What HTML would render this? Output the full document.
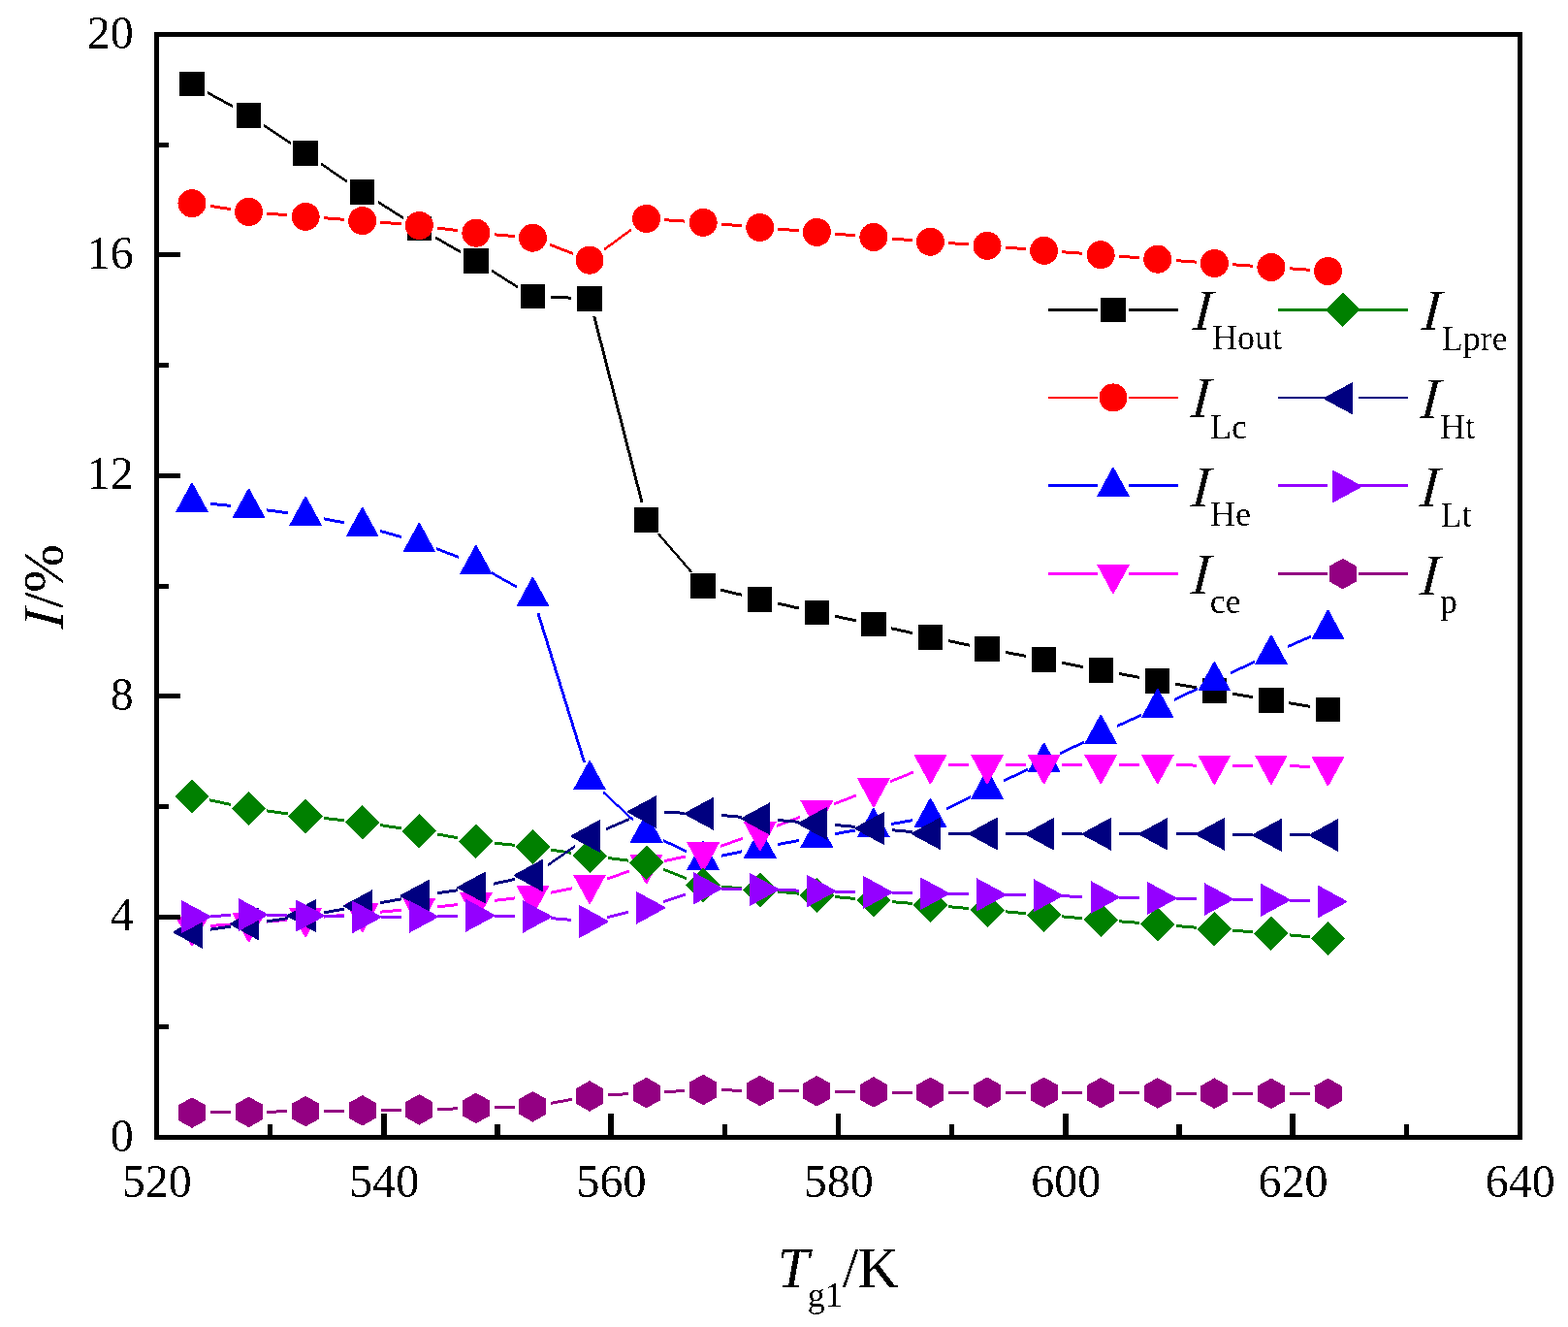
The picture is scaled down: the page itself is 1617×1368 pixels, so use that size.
<!DOCTYPE html>
<html><head><meta charset="utf-8"><title>I vs Tg1</title>
<style>html,body{margin:0;padding:0;background:#fff;}svg{display:block;}
text{font-family:"Liberation Serif","Times New Roman",serif;fill:#000;}</style></head><body>
<svg shape-rendering="crispEdges" width="1617" height="1368" viewBox="0 0 1617 1368">
<defs><filter id="bin" filterUnits="userSpaceOnUse" x="0" y="0" width="1617" height="1368"><feComponentTransfer><feFuncA type="discrete" tableValues="0 1"/></feComponentTransfer></filter><filter id="binI" filterUnits="userSpaceOnUse" x="0" y="0" width="1617" height="1368"><feComponentTransfer><feFuncA type="discrete" tableValues="0 0 1"/></feComponentTransfer></filter></defs>
<rect x="0" y="0" width="1617" height="1368" fill="#fff"/>
<path d="M214.49 94.23L240.09 108.27L240.09 111.27L214.49 97.23ZM272.19 127.77L299.54 146.13L299.54 149.13L272.19 130.77ZM330.7 167.17L358.17 185.83L358.17 188.83L330.7 170.17ZM389.58 206.5L416.44 223.6L416.44 226.6L389.58 209.5ZM448.6 243.08L474.58 258.02L474.58 261.02L448.6 246.08ZM506.79 277.4L533.53 294.2L533.53 297.2L506.79 280.4ZM568.24 304.87L589.24 305.63L589.24 308.63L568.24 307.87ZM611.2 326.01L660.42 517.69L663.42 517.69L614.2 326.01ZM677.38 550.14L711.39 589.56L714.39 589.56L680.38 550.14ZM743.46 606.67L765.47 611.93L765.47 614.93L743.46 609.67ZM802.07 620.52L824.01 625.58L824.01 628.58L802.07 623.52ZM860.72 633.69L882.51 638.31L882.51 641.31L860.72 636.69ZM919.25 646.3L941.13 651.2L941.13 654.2L919.25 649.3ZM977.89 659.1L999.64 663.6L999.64 666.6L977.89 662.1ZM1036.53 670.87L1058.15 674.93L1058.15 677.93L1036.53 673.87ZM1095.1 681.87L1116.72 685.93L1116.72 688.93L1095.1 684.87ZM1153.68 692.87L1175.3 696.93L1175.3 699.93L1153.68 695.87ZM1212.3 703.63L1233.83 707.37L1233.83 710.37L1212.3 706.63ZM1270.9 713.67L1292.38 717.23L1292.38 720.23L1270.9 716.67ZM1329.48 723.34L1350.95 726.86L1350.95 729.86L1329.48 726.34Z" fill="#000000"/>
<rect x="185.3" y="74" width="25.4" height="25.4" fill="#000000"/><rect x="243.88" y="106.1" width="25.4" height="25.4" fill="#000000"/><rect x="302.45" y="145.4" width="25.4" height="25.4" fill="#000000"/><rect x="361.03" y="185.2" width="25.4" height="25.4" fill="#000000"/><rect x="419.6" y="222.5" width="25.4" height="25.4" fill="#000000"/><rect x="478.18" y="256.2" width="25.4" height="25.4" fill="#000000"/><rect x="536.75" y="293" width="25.4" height="25.4" fill="#000000"/><rect x="595.33" y="295.1" width="25.4" height="25.4" fill="#000000"/><rect x="653.9" y="523.2" width="25.4" height="25.4" fill="#000000"/><rect x="712.48" y="591.1" width="25.4" height="25.4" fill="#000000"/><rect x="771.05" y="605.1" width="25.4" height="25.4" fill="#000000"/><rect x="829.62" y="618.6" width="25.4" height="25.4" fill="#000000"/><rect x="888.2" y="631" width="25.4" height="25.4" fill="#000000"/><rect x="946.77" y="644.1" width="25.4" height="25.4" fill="#000000"/><rect x="1005.35" y="656.2" width="25.4" height="25.4" fill="#000000"/><rect x="1063.92" y="667.2" width="25.4" height="25.4" fill="#000000"/><rect x="1122.5" y="678.2" width="25.4" height="25.4" fill="#000000"/><rect x="1181.08" y="689.2" width="25.4" height="25.4" fill="#000000"/><rect x="1239.65" y="699.4" width="25.4" height="25.4" fill="#000000"/><rect x="1298.22" y="709.1" width="25.4" height="25.4" fill="#000000"/><rect x="1356.8" y="718.7" width="25.4" height="25.4" fill="#000000"/>
<path d="M216.59 210.89L237.98 214.11L237.98 217.11L216.59 213.89ZM275.31 218.5L296.42 220.3L296.42 223.3L275.31 221.5ZM333.9 223.24L354.97 224.76L354.97 227.76L333.9 226.24ZM392.46 227.67L413.57 229.43L413.57 232.43L392.46 230.67ZM450.94 233.45L472.24 236.25L472.24 239.25L450.94 236.45ZM509.61 240.3L530.72 242.1L530.72 245.1L509.61 243.3ZM566.95 250.57L590.53 259.83L590.53 262.83L566.95 253.57ZM623.2 255.61L651.42 234.99L651.42 237.99L623.2 258.61ZM685.36 225.18L706.42 226.62L706.42 229.62L685.36 228.18ZM743.9 229.53L765.02 231.37L765.02 234.37L743.9 232.53ZM802.48 234.57L823.59 236.33L823.59 239.33L802.48 237.57ZM861.05 239.53L882.17 241.37L882.17 244.37L861.05 242.53ZM919.64 244.5L940.74 246.2L940.74 249.2L919.64 247.5ZM978.23 249.04L999.3 250.56L999.3 253.56L978.23 252.04ZM1036.78 253.47L1057.89 255.23L1057.89 258.23L1036.78 256.47ZM1095.37 258.21L1116.45 259.79L1116.45 262.79L1095.37 261.21ZM1153.94 262.64L1175.03 264.26L1175.03 267.26L1153.94 265.64ZM1212.52 267.08L1233.6 268.62L1233.6 271.62L1212.52 270.08ZM1271.11 271.28L1292.17 272.72L1292.17 275.72L1271.11 274.28ZM1329.68 275.31L1350.75 276.79L1350.75 279.79L1329.68 278.31Z" fill="#ff0000"/>
<circle cx="198" cy="209.6" r="14.5" fill="#ff0000"/><circle cx="256.57" cy="218.4" r="14.5" fill="#ff0000"/><circle cx="315.15" cy="223.4" r="14.5" fill="#ff0000"/><circle cx="373.73" cy="227.6" r="14.5" fill="#ff0000"/><circle cx="432.3" cy="232.5" r="14.5" fill="#ff0000"/><circle cx="490.88" cy="240.2" r="14.5" fill="#ff0000"/><circle cx="549.45" cy="245.2" r="14.5" fill="#ff0000"/><circle cx="608.03" cy="268.2" r="14.5" fill="#ff0000"/><circle cx="666.6" cy="225.4" r="14.5" fill="#ff0000"/><circle cx="725.18" cy="229.4" r="14.5" fill="#ff0000"/><circle cx="783.75" cy="234.5" r="14.5" fill="#ff0000"/><circle cx="842.33" cy="239.4" r="14.5" fill="#ff0000"/><circle cx="900.9" cy="244.5" r="14.5" fill="#ff0000"/><circle cx="959.48" cy="249.2" r="14.5" fill="#ff0000"/><circle cx="1018.05" cy="253.4" r="14.5" fill="#ff0000"/><circle cx="1076.62" cy="258.3" r="14.5" fill="#ff0000"/><circle cx="1135.2" cy="262.7" r="14.5" fill="#ff0000"/><circle cx="1193.78" cy="267.2" r="14.5" fill="#ff0000"/><circle cx="1252.35" cy="271.5" r="14.5" fill="#ff0000"/><circle cx="1310.92" cy="275.5" r="14.5" fill="#ff0000"/><circle cx="1369.5" cy="279.6" r="14.5" fill="#ff0000"/>
<path d="M216.71 517.78L237.87 519.92L237.87 522.92L216.71 520.78ZM275.2 524.34L296.52 527.26L296.52 530.26L275.2 527.34ZM333.62 533.3L355.25 537.4L355.25 540.4L333.62 536.3ZM391.84 545.91L414.18 552.09L414.18 555.09L391.84 548.91ZM449.81 563.95L473.37 573.15L473.37 576.15L449.81 566.95ZM507.27 589.21L533.06 603.69L533.06 606.69L507.27 592.21ZM553.51 632.36L600.97 785.64L603.97 785.64L556.51 632.36ZM621.8 814.89L652.82 843.71L652.82 846.71L621.8 817.89ZM683.54 864.66L708.24 876.54L708.24 879.54L683.54 867.66ZM743.58 880.87L765.34 876.33L765.34 879.33L743.58 883.87ZM802.23 869.03L823.85 864.97L823.85 867.97L802.23 872.03ZM860.84 858.21L882.39 854.39L882.39 857.39L860.84 861.21ZM919.43 847.91L940.95 844.19L940.95 847.19L919.43 850.91ZM976.27 832.54L1001.26 819.96L1001.26 822.96L976.27 835.54ZM1035.05 803.46L1059.63 791.84L1059.63 794.84L1035.05 806.46ZM1093.47 775.46L1118.35 763.14L1118.35 766.14L1093.47 778.46ZM1152.3 746.98L1176.68 735.82L1176.68 738.82L1152.3 749.98ZM1210.76 719.94L1235.37 708.26L1235.37 711.26L1210.76 722.94ZM1269.37 692.21L1293.91 680.69L1293.91 683.69L1269.37 695.21ZM1328.12 665.1L1352.31 654.4L1352.31 657.4L1328.12 668.1Z" fill="#0000ff"/>
<polygon points="197.3,498 198.7,498 215,528 181,528" fill="#0000ff"/><polygon points="255.88,503.9 257.27,503.9 273.57,533.9 239.57,533.9" fill="#0000ff"/><polygon points="314.45,511.9 315.85,511.9 332.15,541.9 298.15,541.9" fill="#0000ff"/><polygon points="373.03,523 374.43,523 390.73,553 356.73,553" fill="#0000ff"/><polygon points="431.6,539.2 433,539.2 449.3,569.2 415.3,569.2" fill="#0000ff"/><polygon points="490.18,562.1 491.57,562.1 507.88,592.1 473.88,592.1" fill="#0000ff"/><polygon points="548.75,595 550.15,595 566.45,625 532.45,625" fill="#0000ff"/><polygon points="607.33,784.2 608.73,784.2 625.03,814.2 591.03,814.2" fill="#0000ff"/><polygon points="665.9,838.6 667.3,838.6 683.6,868.6 649.6,868.6" fill="#0000ff"/><polygon points="724.48,866.8 725.88,866.8 742.18,896.8 708.18,896.8" fill="#0000ff"/><polygon points="783.05,854.6 784.45,854.6 800.75,884.6 766.75,884.6" fill="#0000ff"/><polygon points="841.62,843.6 843.03,843.6 859.33,873.6 825.33,873.6" fill="#0000ff"/><polygon points="900.2,833.2 901.6,833.2 917.9,863.2 883.9,863.2" fill="#0000ff"/><polygon points="958.77,823.1 960.18,823.1 976.48,853.1 942.48,853.1" fill="#0000ff"/><polygon points="1017.35,793.6 1018.75,793.6 1035.05,823.6 1001.05,823.6" fill="#0000ff"/><polygon points="1075.92,765.9 1077.33,765.9 1093.62,795.9 1059.62,795.9" fill="#0000ff"/><polygon points="1134.5,736.9 1135.9,736.9 1152.2,766.9 1118.2,766.9" fill="#0000ff"/><polygon points="1193.08,710.1 1194.48,710.1 1210.78,740.1 1176.78,740.1" fill="#0000ff"/><polygon points="1251.65,682.3 1253.05,682.3 1269.35,712.3 1235.35,712.3" fill="#0000ff"/><polygon points="1310.22,654.8 1311.62,654.8 1327.92,684.8 1293.92,684.8" fill="#0000ff"/><polygon points="1368.8,628.9 1370.2,628.9 1386.5,658.9 1352.5,658.9" fill="#0000ff"/>
<path d="M216.76 952.92L237.82 951.48L237.82 954.48L216.76 955.92ZM275.31 948.6L296.42 946.8L296.42 949.8L275.31 951.6ZM333.88 943.6L354.99 941.8L354.99 944.8L333.88 946.6ZM392.46 938.6L413.57 936.8L413.57 939.8L392.46 941.6ZM451 933.28L472.17 931.12L472.17 934.12L451 936.28ZM509.54 926.97L530.78 924.43L530.78 927.43L509.54 929.97ZM567.91 918.64L589.57 914.46L589.57 917.46L567.91 921.64ZM625.76 904.66L648.86 896.54L648.86 899.54L625.76 907.66ZM684.96 886.26L706.81 881.44L706.81 884.44L684.96 889.26ZM742.86 871.03L766.06 862.67L766.06 865.67L742.86 874.03ZM801.36 849.72L824.72 840.98L824.72 843.98L801.36 852.72ZM859.82 827.53L883.4 818.27L883.4 821.27L859.82 830.53ZM918.28 804.22L942.1 794.38L942.1 797.38L918.28 807.22ZM978.27 787.2L999.25 787.2L999.25 790.2L978.27 790.2ZM1036.85 787.2L1057.83 787.2L1057.83 790.2L1036.85 790.2ZM1095.42 787.2L1116.4 787.2L1116.4 790.2L1095.42 790.2ZM1154 787.2L1174.98 787.2L1174.98 790.2L1154 790.2ZM1212.57 787.36L1233.55 787.54L1233.55 790.54L1212.57 790.36ZM1271.15 787.73L1292.13 787.77L1292.13 790.77L1271.15 790.73ZM1329.72 788.25L1350.71 788.75L1350.71 791.75L1329.72 791.25Z" fill="#ff00ff"/>
<polygon points="197.3,975.1 198.7,975.1 215,945.1 181,945.1" fill="#ff00ff"/><polygon points="255.88,971.1 257.27,971.1 273.57,941.1 239.57,941.1" fill="#ff00ff"/><polygon points="314.45,966.1 315.85,966.1 332.15,936.1 298.15,936.1" fill="#ff00ff"/><polygon points="373.03,961.1 374.43,961.1 390.73,931.1 356.73,931.1" fill="#ff00ff"/><polygon points="431.6,956.1 433,956.1 449.3,926.1 415.3,926.1" fill="#ff00ff"/><polygon points="490.18,950.1 491.57,950.1 507.88,920.1 473.88,920.1" fill="#ff00ff"/><polygon points="548.75,943.1 550.15,943.1 566.45,913.1 532.45,913.1" fill="#ff00ff"/><polygon points="607.33,931.8 608.73,931.8 625.03,901.8 591.03,901.8" fill="#ff00ff"/><polygon points="665.9,911.2 667.3,911.2 683.6,881.2 649.6,881.2" fill="#ff00ff"/><polygon points="724.48,898.3 725.88,898.3 742.18,868.3 708.18,868.3" fill="#ff00ff"/><polygon points="783.05,877.2 784.45,877.2 800.75,847.2 766.75,847.2" fill="#ff00ff"/><polygon points="841.62,855.3 843.03,855.3 859.33,825.3 825.33,825.3" fill="#ff00ff"/><polygon points="900.2,832.3 901.6,832.3 917.9,802.3 883.9,802.3" fill="#ff00ff"/><polygon points="958.77,808.1 960.18,808.1 976.48,778.1 942.48,778.1" fill="#ff00ff"/><polygon points="1017.35,808.1 1018.75,808.1 1035.05,778.1 1001.05,778.1" fill="#ff00ff"/><polygon points="1075.92,808.1 1077.33,808.1 1093.62,778.1 1059.62,778.1" fill="#ff00ff"/><polygon points="1134.5,808.1 1135.9,808.1 1152.2,778.1 1118.2,778.1" fill="#ff00ff"/><polygon points="1193.08,808.1 1194.48,808.1 1210.78,778.1 1176.78,778.1" fill="#ff00ff"/><polygon points="1251.65,808.6 1253.05,808.6 1269.35,778.6 1235.35,778.6" fill="#ff00ff"/><polygon points="1310.22,808.7 1311.62,808.7 1327.92,778.7 1293.92,778.7" fill="#ff00ff"/><polygon points="1368.8,810.1 1370.2,810.1 1386.5,780.1 1352.5,780.1" fill="#ff00ff"/>
<path d="M216.39 823.32L238.19 827.98L238.19 830.98L216.39 826.32ZM275.2 834.44L296.52 837.36L296.52 840.36L275.2 837.44ZM333.84 841.97L355.04 844.33L355.04 847.33L333.84 844.97ZM392.32 849.16L413.7 852.34L413.7 855.34L392.32 852.16ZM450.8 858.45L472.38 862.35L472.38 865.35L450.8 861.45ZM509.58 867.62L530.75 869.78L530.75 872.78L509.58 870.62ZM568.03 874.56L589.44 877.84L589.44 880.84L568.03 877.56ZM626.68 882.99L647.94 885.61L647.94 888.61L626.68 885.99ZM684.1 894.77L707.68 904.03L707.68 907.03L684.1 897.77ZM743.9 912.53L765.02 914.37L765.02 917.37L743.9 915.53ZM802.47 917.73L823.6 919.67L823.6 922.67L802.47 920.73ZM861.05 923.06L882.17 924.94L882.17 927.94L861.05 926.06ZM919.63 928.17L940.74 929.93L940.74 932.93L919.63 931.17ZM978.2 933.16L999.32 935.04L999.32 938.04L978.2 936.16ZM1036.78 938.33L1057.9 940.17L1057.9 943.17L1036.78 941.33ZM1095.36 943.4L1116.47 945.2L1116.47 948.2L1095.36 946.4ZM1153.94 948.27L1175.03 949.93L1175.03 952.93L1153.94 951.27ZM1212.51 952.97L1233.62 954.73L1233.62 957.73L1212.51 955.97ZM1271.1 957.71L1292.18 959.29L1292.18 962.29L1271.1 960.71ZM1329.65 962.36L1350.77 964.24L1350.77 967.24L1329.65 965.36Z" fill="#008000"/>
<polygon points="198,803.1 215.8,820.9 198,838.7 180.2,820.9" fill="#008000"/><polygon points="256.57,815.6 274.38,833.4 256.57,851.2 238.77,833.4" fill="#008000"/><polygon points="315.15,823.6 332.95,841.4 315.15,859.2 297.35,841.4" fill="#008000"/><polygon points="373.73,830.1 391.53,847.9 373.73,865.7 355.93,847.9" fill="#008000"/><polygon points="432.3,838.8 450.1,856.6 432.3,874.4 414.5,856.6" fill="#008000"/><polygon points="490.88,849.4 508.68,867.2 490.88,885 473.07,867.2" fill="#008000"/><polygon points="549.45,855.4 567.25,873.2 549.45,891 531.65,873.2" fill="#008000"/><polygon points="608.03,864.4 625.83,882.2 608.03,900 590.23,882.2" fill="#008000"/><polygon points="666.6,871.6 684.4,889.4 666.6,907.2 648.8,889.4" fill="#008000"/><polygon points="725.18,894.6 742.98,912.4 725.18,930.2 707.38,912.4" fill="#008000"/><polygon points="783.75,899.7 801.55,917.5 783.75,935.3 765.95,917.5" fill="#008000"/><polygon points="842.33,905.1 860.12,922.9 842.33,940.7 824.53,922.9" fill="#008000"/><polygon points="900.9,910.3 918.7,928.1 900.9,945.9 883.1,928.1" fill="#008000"/><polygon points="959.48,915.2 977.27,933 959.48,950.8 941.68,933" fill="#008000"/><polygon points="1018.05,920.4 1035.85,938.2 1018.05,956 1000.25,938.2" fill="#008000"/><polygon points="1076.62,925.5 1094.42,943.3 1076.62,961.1 1058.83,943.3" fill="#008000"/><polygon points="1135.2,930.5 1153,948.3 1135.2,966.1 1117.4,948.3" fill="#008000"/><polygon points="1193.78,935.1 1211.58,952.9 1193.78,970.7 1175.98,952.9" fill="#008000"/><polygon points="1252.35,940 1270.15,957.8 1252.35,975.6 1234.55,957.8" fill="#008000"/><polygon points="1310.92,944.4 1328.72,962.2 1310.92,980 1293.12,962.2" fill="#008000"/><polygon points="1369.5,949.6 1387.3,967.4 1369.5,985.2 1351.7,967.4" fill="#008000"/>
<path d="M216.61 956.66L237.96 953.64L237.96 956.64L216.61 959.66ZM275.18 948.3L296.54 945.2L296.54 948.2L275.18 951.3ZM333.68 939.34L355.19 935.66L355.19 938.66L333.68 942.34ZM392.23 929.18L413.79 925.32L413.79 928.32L392.23 932.18ZM450.91 919.3L472.27 916.2L472.27 919.2L450.91 922.3ZM509.26 909.58L531.06 904.92L531.06 907.92L509.26 912.58ZM564.91 890.31L592.56 871.19L592.56 874.19L564.91 893.31ZM625.31 853.1L649.32 842.8L649.32 845.8L625.31 856.1ZM685.39 836.01L706.38 836.69L706.38 839.69L685.39 839.01ZM743.9 838.96L765.02 840.84L765.02 843.84L743.9 841.96ZM802.48 844.07L823.59 845.83L823.59 848.83L802.48 847.07ZM861.05 849.03L882.17 850.87L882.17 853.87L861.05 852.03ZM919.62 854.23L940.75 856.17L940.75 859.17L919.62 857.23ZM978.27 857.93L999.25 857.97L999.25 860.97L978.27 860.93ZM1036.85 858.1L1057.83 858.2L1057.83 861.2L1036.85 861.1ZM1095.42 858.3L1116.4 858.3L1116.4 861.3L1095.42 861.3ZM1154 858.3L1174.98 858.3L1174.98 861.3L1154 861.3ZM1212.57 858.33L1233.55 858.37L1233.55 861.37L1212.57 861.33ZM1271.15 858.72L1292.13 859.08L1292.13 862.08L1271.15 861.72ZM1329.72 859.43L1350.7 859.47L1350.7 862.47L1329.72 862.43Z" fill="#000080"/>
<polygon points="178.6,960.1 178.6,961.5 208.6,977.8 208.6,943.8" fill="#000080"/><polygon points="237.17,951.8 237.17,953.2 267.18,969.5 267.18,935.5" fill="#000080"/><polygon points="295.75,943.3 295.75,944.7 325.75,961 325.75,927" fill="#000080"/><polygon points="354.33,933.3 354.33,934.7 384.33,951 384.33,917" fill="#000080"/><polygon points="412.9,922.8 412.9,924.2 442.9,940.5 442.9,906.5" fill="#000080"/><polygon points="471.48,914.3 471.48,915.7 501.48,932 501.48,898" fill="#000080"/><polygon points="530.05,901.8 530.05,903.2 560.05,919.5 560.05,885.5" fill="#000080"/><polygon points="588.63,861.3 588.63,862.7 618.63,879 618.63,845" fill="#000080"/><polygon points="647.2,836.2 647.2,837.6 677.2,853.9 677.2,819.9" fill="#000080"/><polygon points="705.78,838.1 705.78,839.5 735.78,855.8 735.78,821.8" fill="#000080"/><polygon points="764.35,843.3 764.35,844.7 794.35,861 794.35,827" fill="#000080"/><polygon points="822.93,848.2 822.93,849.6 852.93,865.9 852.93,831.9" fill="#000080"/><polygon points="881.5,853.3 881.5,854.7 911.5,871 911.5,837" fill="#000080"/><polygon points="940.08,858.7 940.08,860.1 970.08,876.4 970.08,842.4" fill="#000080"/><polygon points="998.65,858.8 998.65,860.2 1028.65,876.5 1028.65,842.5" fill="#000080"/><polygon points="1057.22,859.1 1057.22,860.5 1087.22,876.8 1087.22,842.8" fill="#000080"/><polygon points="1115.8,859.1 1115.8,860.5 1145.8,876.8 1145.8,842.8" fill="#000080"/><polygon points="1174.38,859.1 1174.38,860.5 1204.38,876.8 1204.38,842.8" fill="#000080"/><polygon points="1232.95,859.2 1232.95,860.6 1262.95,876.9 1262.95,842.9" fill="#000080"/><polygon points="1291.52,860.2 1291.52,861.6 1321.52,877.9 1321.52,843.9" fill="#000080"/><polygon points="1350.1,860.3 1350.1,861.7 1380.1,878 1380.1,844" fill="#000080"/>
<path d="M216.79 942.93L237.79 942.17L237.79 945.17L216.79 945.93ZM275.37 941.82L296.35 942.18L296.35 945.18L275.37 944.82ZM333.95 942.92L354.93 943.38L354.93 946.38L333.95 945.92ZM392.52 943.7L413.5 943.6L413.5 946.6L392.52 946.7ZM451.1 943.11L472.08 942.69L472.08 945.69L451.1 946.11ZM509.67 942.69L530.65 943.11L530.65 946.11L509.67 945.69ZM568.18 945.1L589.29 946.9L589.29 949.9L568.18 948.1ZM626.3 944.07L648.33 938.73L648.33 941.73L626.3 947.07ZM684.39 928.23L707.38 920.37L707.38 923.37L684.39 931.23ZM743.97 914.69L764.95 915.11L764.95 918.11L743.97 917.69ZM802.54 916.01L823.53 916.59L823.53 919.59L802.54 919.01ZM861.12 917.55L882.11 918.05L882.11 921.05L861.12 920.55ZM919.7 918.89L940.68 919.31L940.68 922.31L919.7 921.89ZM978.27 920.09L999.25 920.51L999.25 923.51L978.27 923.09ZM1036.85 921.16L1057.83 921.44L1057.83 924.44L1036.85 924.16ZM1095.42 922.28L1116.41 922.92L1116.41 925.92L1095.42 925.28ZM1154 923.82L1174.98 924.18L1174.98 927.18L1154 926.82ZM1212.57 924.82L1233.55 925.18L1233.55 928.18L1212.57 927.82ZM1271.15 925.76L1292.13 926.04L1292.13 929.04L1271.15 928.76ZM1329.72 926.85L1350.71 927.45L1350.71 930.45L1329.72 929.85Z" fill="#9400ff"/>
<polygon points="217.4,944.4 217.4,945.8 187.4,962.1 187.4,928.1" fill="#9400ff"/><polygon points="275.97,942.3 275.97,943.7 245.97,960 245.97,926" fill="#9400ff"/><polygon points="334.55,943.3 334.55,944.7 304.55,961 304.55,927" fill="#9400ff"/><polygon points="393.12,944.6 393.12,946 363.12,962.3 363.12,928.3" fill="#9400ff"/><polygon points="451.7,944.3 451.7,945.7 421.7,962 421.7,928" fill="#9400ff"/><polygon points="510.27,943.1 510.27,944.5 480.27,960.8 480.27,926.8" fill="#9400ff"/><polygon points="568.85,944.3 568.85,945.7 538.85,962 538.85,928" fill="#9400ff"/><polygon points="627.43,949.3 627.43,950.7 597.43,967 597.43,933" fill="#9400ff"/><polygon points="686,935.1 686,936.5 656,952.8 656,918.8" fill="#9400ff"/><polygon points="744.58,915.1 744.58,916.5 714.58,932.8 714.58,898.8" fill="#9400ff"/><polygon points="803.15,916.3 803.15,917.7 773.15,934 773.15,900" fill="#9400ff"/><polygon points="861.73,917.9 861.73,919.3 831.73,935.6 831.73,901.6" fill="#9400ff"/><polygon points="920.3,919.3 920.3,920.7 890.3,937 890.3,903" fill="#9400ff"/><polygon points="978.88,920.5 978.88,921.9 948.88,938.2 948.88,904.2" fill="#9400ff"/><polygon points="1037.45,921.7 1037.45,923.1 1007.45,939.4 1007.45,905.4" fill="#9400ff"/><polygon points="1096.03,922.5 1096.03,923.9 1066.03,940.2 1066.03,906.2" fill="#9400ff"/><polygon points="1154.6,924.3 1154.6,925.7 1124.6,942 1124.6,908" fill="#9400ff"/><polygon points="1213.18,925.3 1213.18,926.7 1183.18,943 1183.18,909" fill="#9400ff"/><polygon points="1271.75,926.3 1271.75,927.7 1241.75,944 1241.75,910" fill="#9400ff"/><polygon points="1330.33,927.1 1330.33,928.5 1300.33,944.8 1300.33,910.8" fill="#9400ff"/><polygon points="1388.9,928.8 1388.9,930.2 1358.9,946.5 1358.9,912.5" fill="#9400ff"/>
<path d="M216.8 1145.38L237.78 1145.12L237.78 1148.12L216.8 1148.38ZM275.37 1144.64L296.35 1144.36L296.35 1147.36L275.37 1147.64ZM333.95 1143.84L354.93 1143.56L354.93 1146.56L333.95 1146.84ZM392.52 1143.01L413.5 1142.69L413.5 1145.69L392.52 1146.01ZM451.09 1141.92L472.08 1141.38L472.08 1144.38L451.09 1144.92ZM509.67 1140.39L530.66 1139.81L530.66 1142.81L509.67 1143.39ZM567.94 1135.89L589.54 1131.91L589.54 1134.91L567.94 1138.89ZM626.79 1127.41L647.83 1126.19L647.83 1129.19L626.79 1130.41ZM685.37 1124.11L706.4 1122.99L706.4 1125.99L685.37 1127.11ZM743.97 1122.32L764.95 1122.68L764.95 1125.68L743.97 1125.32ZM802.55 1123.1L823.53 1123.2L823.53 1126.2L802.55 1126.1ZM861.12 1123.65L882.1 1124.05L882.1 1127.05L861.12 1126.65ZM919.7 1124.53L940.68 1124.67L940.68 1127.67L919.7 1127.53ZM978.27 1124.8L999.25 1124.8L999.25 1127.8L978.27 1127.8ZM1036.85 1124.8L1057.83 1124.8L1057.83 1127.8L1036.85 1127.8ZM1095.42 1124.93L1116.4 1125.07L1116.4 1128.07L1095.42 1127.93ZM1154 1125.26L1174.98 1125.34L1174.98 1128.34L1154 1128.26ZM1212.57 1125.5L1233.55 1125.6L1233.55 1128.6L1212.57 1128.5ZM1271.15 1125.76L1292.13 1125.84L1292.13 1128.84L1271.15 1128.76ZM1329.72 1125.9L1350.7 1125.9L1350.7 1128.9L1329.72 1128.9Z" fill="#930082"/>
<polygon points="198,1131.3 212,1139.2 212,1155 198,1162.9 184,1155 184,1139.2" fill="#930082"/><polygon points="256.57,1130.6 270.57,1138.5 270.57,1154.3 256.57,1162.2 242.57,1154.3 242.57,1138.5" fill="#930082"/><polygon points="315.15,1129.8 329.15,1137.7 329.15,1153.5 315.15,1161.4 301.15,1153.5 301.15,1137.7" fill="#930082"/><polygon points="373.73,1129 387.73,1136.9 387.73,1152.7 373.73,1160.6 359.73,1152.7 359.73,1136.9" fill="#930082"/><polygon points="432.3,1128.1 446.3,1136 446.3,1151.8 432.3,1159.7 418.3,1151.8 418.3,1136" fill="#930082"/><polygon points="490.88,1126.6 504.88,1134.5 504.88,1150.3 490.88,1158.2 476.88,1150.3 476.88,1134.5" fill="#930082"/><polygon points="549.45,1125 563.45,1132.9 563.45,1148.7 549.45,1156.6 535.45,1148.7 535.45,1132.9" fill="#930082"/><polygon points="608.03,1114.2 622.03,1122.1 622.03,1137.9 608.03,1145.8 594.03,1137.9 594.03,1122.1" fill="#930082"/><polygon points="666.6,1110.8 680.6,1118.7 680.6,1134.5 666.6,1142.4 652.6,1134.5 652.6,1118.7" fill="#930082"/><polygon points="725.18,1107.7 739.18,1115.6 739.18,1131.4 725.18,1139.3 711.18,1131.4 711.18,1115.6" fill="#930082"/><polygon points="783.75,1108.7 797.75,1116.6 797.75,1132.4 783.75,1140.3 769.75,1132.4 769.75,1116.6" fill="#930082"/><polygon points="842.33,1109 856.33,1116.9 856.33,1132.7 842.33,1140.6 828.33,1132.7 828.33,1116.9" fill="#930082"/><polygon points="900.9,1110.1 914.9,1118 914.9,1133.8 900.9,1141.7 886.9,1133.8 886.9,1118" fill="#930082"/><polygon points="959.48,1110.5 973.48,1118.4 973.48,1134.2 959.48,1142.1 945.48,1134.2 945.48,1118.4" fill="#930082"/><polygon points="1018.05,1110.5 1032.05,1118.4 1032.05,1134.2 1018.05,1142.1 1004.05,1134.2 1004.05,1118.4" fill="#930082"/><polygon points="1076.62,1110.5 1090.62,1118.4 1090.62,1134.2 1076.62,1142.1 1062.62,1134.2 1062.62,1118.4" fill="#930082"/><polygon points="1135.2,1110.9 1149.2,1118.8 1149.2,1134.6 1135.2,1142.5 1121.2,1134.6 1121.2,1118.8" fill="#930082"/><polygon points="1193.78,1111.1 1207.78,1119 1207.78,1134.8 1193.78,1142.7 1179.78,1134.8 1179.78,1119" fill="#930082"/><polygon points="1252.35,1111.4 1266.35,1119.3 1266.35,1135.1 1252.35,1143 1238.35,1135.1 1238.35,1119.3" fill="#930082"/><polygon points="1310.92,1111.6 1324.92,1119.5 1324.92,1135.3 1310.92,1143.2 1296.92,1135.3 1296.92,1119.5" fill="#930082"/><polygon points="1369.5,1111.6 1383.5,1119.5 1383.5,1135.3 1369.5,1143.2 1355.5,1135.3 1355.5,1119.5" fill="#930082"/>
<rect x="161.5" y="35.5" width="1406" height="1137" fill="none" stroke="#000" stroke-width="5"/>
<path d="M278.67 1172.5L278.67 1159.2M395.83 1172.5L395.83 1148M513 1172.5L513 1159.2M630.17 1172.5L630.17 1148M747.33 1172.5L747.33 1159.2M864.5 1172.5L864.5 1148M981.67 1172.5L981.67 1159.2M1098.83 1172.5L1098.83 1148M1216 1172.5L1216 1159.2M1333.17 1172.5L1333.17 1148M1450.33 1172.5L1450.33 1159.2" stroke="#000" stroke-width="5.6" fill="none"/>
<path d="M161.5 1058.8L174 1058.8M161.5 945.1L185.5 945.1M161.5 831.4L174 831.4M161.5 717.7L185.5 717.7M161.5 604L174 604M161.5 490.3L185.5 490.3M161.5 376.6L174 376.6M161.5 262.9L185.5 262.9M161.5 149.2L174 149.2" stroke="#000" stroke-width="5" fill="none"/>
<path d="M1081.4 319.4L1131.7 319.4M1164.3 319.4L1214.9 319.4" stroke="#000000" stroke-width="2.8" fill="none"/><rect x="1135.1" y="307.05" width="25.8" height="24.7" fill="#000000"/>
<path d="M1318.2 319.4L1368.5 319.4M1401.1 319.4L1451.8 319.4" stroke="#008000" stroke-width="2.8" fill="none"/><polygon points="1384.8,301.6 1402.6,319.4 1384.8,337.2 1367,319.4" fill="#008000"/>
<path d="M1081.4 409.9L1131.7 409.9M1164.3 409.9L1214.9 409.9" stroke="#ff0000" stroke-width="2.8" fill="none"/><circle cx="1148" cy="409.9" r="14.5" fill="#ff0000"/>
<path d="M1318.2 409.9L1368.5 409.9M1401.1 409.9L1451.8 409.9" stroke="#000080" stroke-width="2.8" fill="none"/><polygon points="1365.4,410 1365.4,411.4 1395.4,427.7 1395.4,393.7" fill="#000080"/>
<path d="M1081.4 500.6L1131.7 500.6M1164.3 500.6L1214.9 500.6" stroke="#0000ff" stroke-width="2.8" fill="none"/><polygon points="1147.3,482 1148.7,482 1165,512 1131,512" fill="#0000ff"/>
<path d="M1318.2 500.6L1368.5 500.6M1401.1 500.6L1451.8 500.6" stroke="#9400ff" stroke-width="2.8" fill="none"/><polygon points="1404.2,500.7 1404.2,502.1 1374.2,518.4 1374.2,484.4" fill="#9400ff"/>
<path d="M1081.4 591.6L1131.7 591.6M1164.3 591.6L1214.9 591.6" stroke="#ff00ff" stroke-width="2.8" fill="none"/><polygon points="1147.3,611.8 1148.7,611.8 1165,581.8 1131,581.8" fill="#ff00ff"/>
<path d="M1318.2 591.6L1368.5 591.6M1401.1 591.6L1451.8 591.6" stroke="#930082" stroke-width="2.8" fill="none"/><polygon points="1384.8,575.8 1398.8,583.7 1398.8,599.5 1384.8,607.4 1370.8,599.5 1370.8,583.7" fill="#930082"/>
<g filter="url(#bin)">
<text x="161.8" y="1234" font-size="48" text-anchor="middle">520</text>
<text x="396.13" y="1234" font-size="48" text-anchor="middle">540</text>
<text x="630.47" y="1234" font-size="48" text-anchor="middle">560</text>
<text x="864.8" y="1234" font-size="48" text-anchor="middle">580</text>
<text x="1099.13" y="1234" font-size="48" text-anchor="middle">600</text>
<text x="1333.47" y="1234" font-size="48" text-anchor="middle">620</text>
<text x="1567.8" y="1234" font-size="48" text-anchor="middle">640</text>
<text x="137.7" y="1186.5" font-size="48" text-anchor="end">0</text>
<text x="137.7" y="959.1" font-size="48" text-anchor="end">4</text>
<text x="137.7" y="731.7" font-size="48" text-anchor="end">8</text>
<text x="137.7" y="504.3" font-size="48" text-anchor="end">12</text>
<text x="137.7" y="276.9" font-size="48" text-anchor="end">16</text>
<text x="137.7" y="49.5" font-size="48" text-anchor="end">20</text>
<text x="801.6" y="1326.8" font-size="59" font-style="italic">T</text>
<text x="832.8" y="1346.8" font-size="36">g1</text>
<text x="868.8" y="1326.8" font-size="59">/</text>
<text x="884.6" y="1326.8" font-size="59">K</text>
<g transform="translate(64.6,647.3) rotate(-90)"><text x="20.35" y="0" font-size="60">/</text><text x="36.35" y="0" font-size="60">%</text></g>
<text x="1250" y="359.8" font-size="36">Hout</text>
<text x="1486.7" y="360.9" font-size="36">Lpre</text>
<text x="1248.1" y="451.9" font-size="36">Lc</text>
<text x="1485.1" y="451.9" font-size="36">Ht</text>
<text x="1248.1" y="541.9" font-size="36">He</text>
<text x="1485.4" y="542.7" font-size="36">Lt</text>
<text x="1247.7" y="632.4" font-size="36">ce</text>
<text x="1485.1" y="632.4" font-size="36">p</text>
</g>
<g filter="url(#binI)">
<g transform="translate(64.6,647.3) rotate(-90)"><text x="-2" y="0" font-size="60" font-style="italic" transform="translate(-2 0) skewX(-4.5) translate(2 0)">I</text></g>
<text x="1228.9" y="340" font-size="60" font-style="italic" transform="translate(1228.9 340) skewX(-4.5) translate(-1228.9 -340)">I</text>
<text x="1465.1" y="340.3" font-size="60" font-style="italic" transform="translate(1465.1 340.3) skewX(-4.5) translate(-1465.1 -340.3)">I</text>
<text x="1226.95" y="429.8" font-size="60" font-style="italic" transform="translate(1226.95 429.8) skewX(-4.5) translate(-1226.95 -429.8)">I</text>
<text x="1463.4" y="431.1" font-size="60" font-style="italic" transform="translate(1463.4 431.1) skewX(-4.5) translate(-1463.4 -431.1)">I</text>
<text x="1227.15" y="521.8" font-size="60" font-style="italic" transform="translate(1227.15 521.8) skewX(-4.5) translate(-1227.15 -521.8)">I</text>
<text x="1463" y="521.8" font-size="60" font-style="italic" transform="translate(1463 521.8) skewX(-4.5) translate(-1463 -521.8)">I</text>
<text x="1227.15" y="611.8" font-size="60" font-style="italic" transform="translate(1227.15 611.8) skewX(-4.5) translate(-1227.15 -611.8)">I</text>
<text x="1463.15" y="612.7" font-size="60" font-style="italic" transform="translate(1463.15 612.7) skewX(-4.5) translate(-1463.15 -612.7)">I</text>
</g>
</svg>
</body></html>
